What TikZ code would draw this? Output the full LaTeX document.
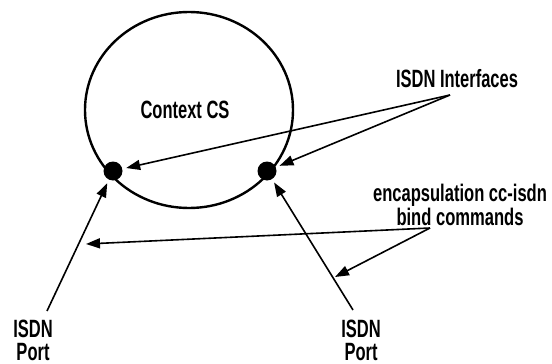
\documentclass[tikz,border=0pt]{standalone}
\usepackage{fontspec}
\setmainfont{Liberation Sans}[FakeStretch=0.66,BoldFont={Liberation Sans Bold}]
\newfontfamily\bindfont{Liberation Sans Bold}[FakeStretch=0.69]
\usetikzlibrary{shapes.geometric,arrows.meta}
\begin{document}
\begin{tikzpicture}[x=1pt,y=-1pt,
  lbl/.style={font=\bfseries\fontsize{25}{23}\selectfont, inner sep=0pt, anchor=base},
  dot/.style={circle, fill=black, minimum size=19pt, inner sep=0pt, outer sep=4pt},
  conn/.style={line width=1.6pt, -{Triangle[length=14pt,width=10pt]}},
  ring/.style={draw, ellipse, line width=2.4pt, minimum width=208pt, minimum height=196pt, inner sep=0pt}]
\useasboundingbox (0,0) rectangle (552,364);
\node[ring] (cs) at (189,110) {};
\node[lbl] (cstext) at (185,118) {Context CS};
\node[dot] (d1) at (113,171) {};
\node[dot] (d2) at (267,171) {};
\node[lbl] (ifl) at (457,87) {ISDN Interfaces};
\node[lbl, align=center, font=\bindfont\fontsize{24}{22}\selectfont] (bind) at (460,225) {encapsulation cc-isdn\\bind commands};
\node[lbl, align=center] (p1) at (33,360) {ISDN\\Port};
\node[lbl, align=center] (p2) at (361,360) {ISDN\\Port};
\coordinate (ifapex) at (450,95);
\coordinate (bindapex) at (430,228);
\coordinate (b1) at (86,244);
\coordinate (b2) at (335,277);
\coordinate (p1top) at (47,311);
\coordinate (p2top) at (353,310);
\draw[conn] (ifapex) -- (d1);
\draw[conn] (ifapex) -- (d2);
\draw[conn] (bindapex) -- (b1);
\draw[conn] (bindapex) -- (b2);
\draw[conn] (p1top) -- (d1);
\draw[conn] (p2top) -- (d2);
\end{tikzpicture}
\end{document}
